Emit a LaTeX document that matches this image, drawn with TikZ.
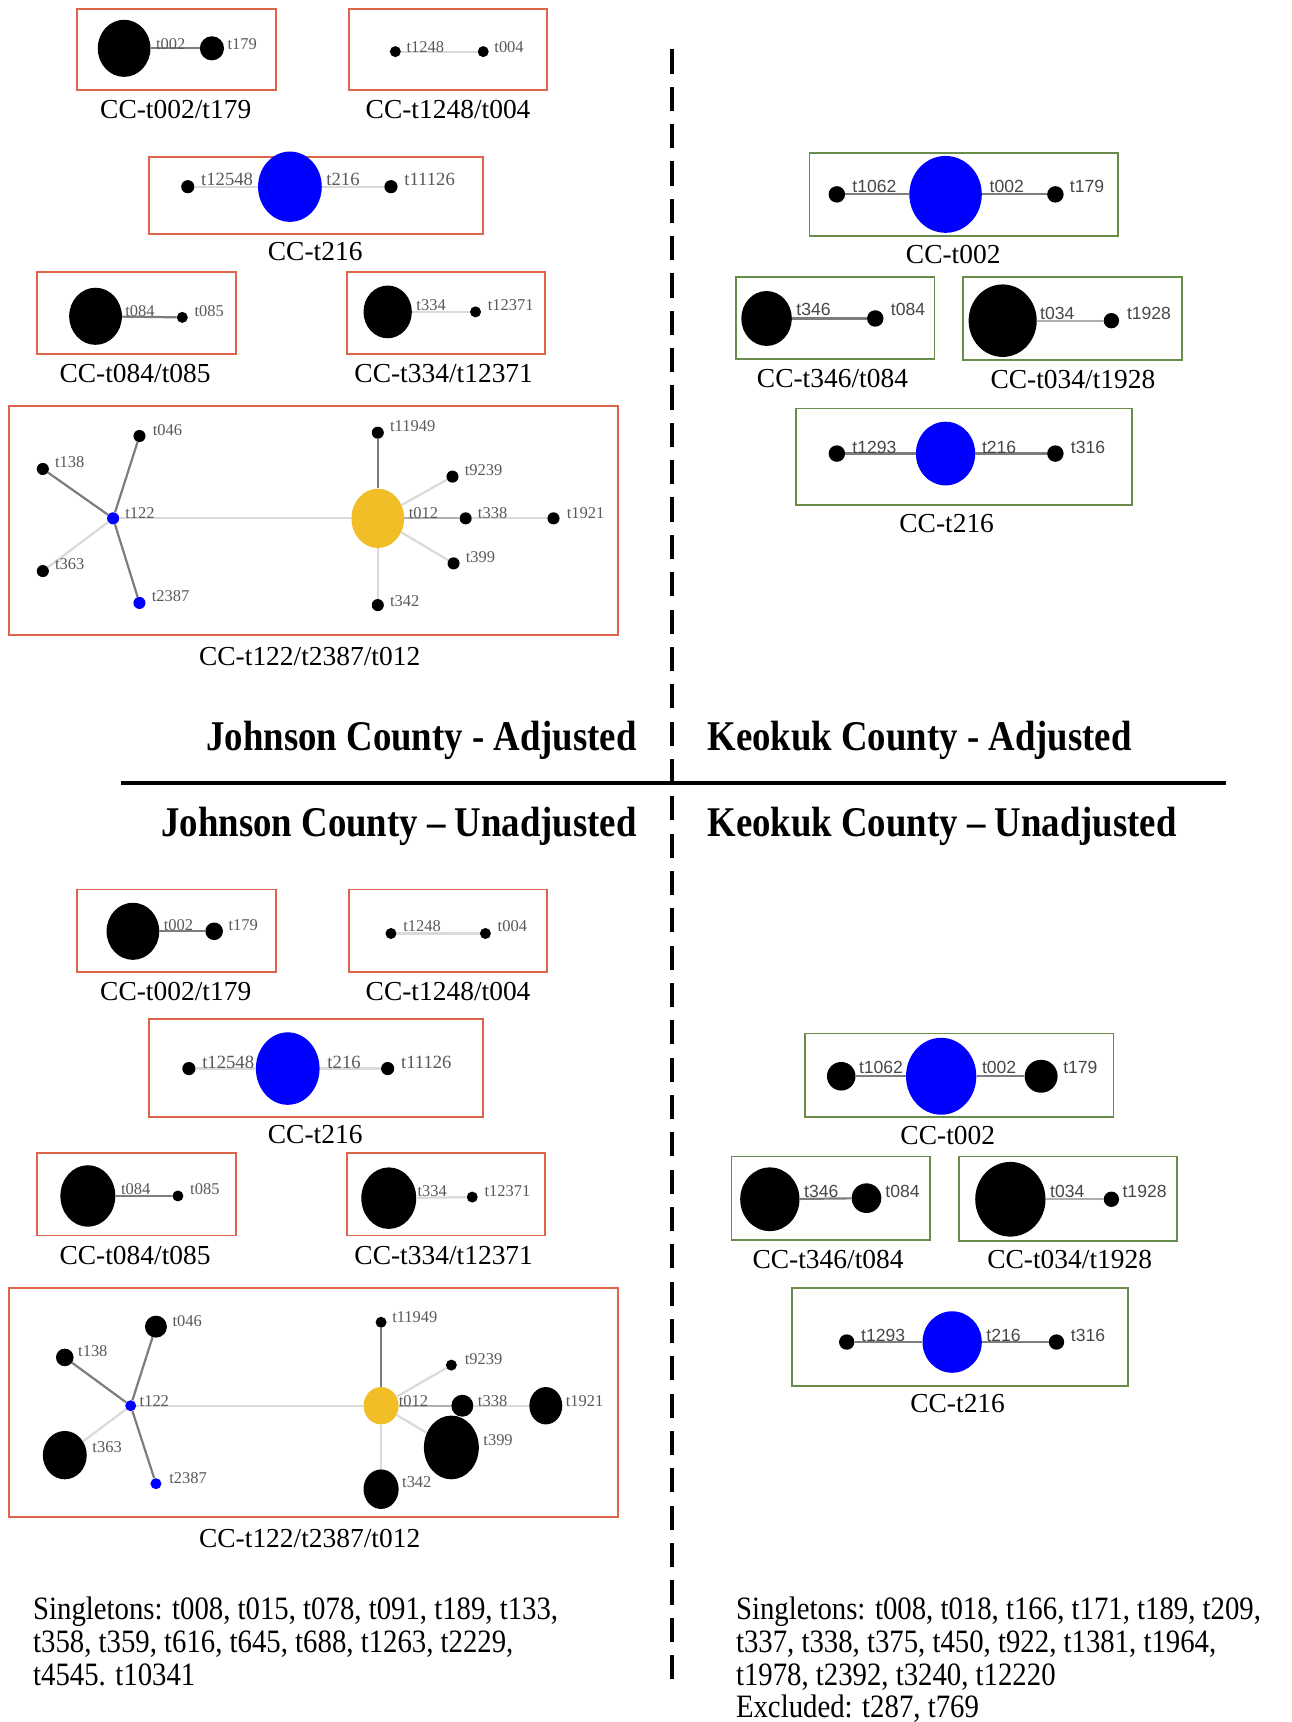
\documentclass[tikz,border=0pt]{standalone}
\usepackage{fontspec}
\setmainfont{Liberation Serif}
\newfontfamily\lsans{Liberation Sans}
\usetikzlibrary{shapes.geometric}
\definecolor{jred}{RGB}{222,100,75}
\definecolor{kgreen}{RGB}{105,140,75}
\definecolor{nblue}{RGB}{0,0,255}
\definecolor{nyel}{RGB}{242,190,40}
\definecolor{edark}{RGB}{125,125,125}
\definecolor{emed}{RGB}{175,175,175}
\definecolor{elight}{RGB}{218,218,218}
\newcommand\tallhead[1]{\scalebox{1}[1.15]{#1}}
\newcommand\tallsing[1]{\scalebox{0.97}[1.1]{#1}}
\begin{document}
\begin{tikzpicture}[x=1pt,y=-1pt,
  jbox/.style={draw=jred, line width=1.6},
  kbox/.style={draw=kgreen, line width=1.6},
  dotn/.style={circle, fill=black, inner sep=0, minimum size=#1},
  bdot/.style={circle, fill=nblue, inner sep=0, minimum size=#1},
  bign/.style 2 args={ellipse, fill=black, inner sep=0, minimum width=#1, minimum height=#2},
  bluen/.style 2 args={ellipse, fill=nblue, inner sep=0, minimum width=#1, minimum height=#2},
  yeln/.style 2 args={ellipse, fill=nyel, inner sep=0, minimum width=#1, minimum height=#2},
  jl/.style={font=\fontsize{15}{15}\selectfont, text=black!65, anchor=west, inner sep=0},
  jlb/.style={font=\fontsize{17}{17}\selectfont, text=black!65, anchor=west, inner sep=0},
  kl/.style={font=\lsans\fontsize{16}{16}\selectfont, text=black!72, anchor=west, inner sep=0},
  captext/.style={font=\fontsize{25}{25}\selectfont, anchor=base, inner sep=0, text=black},
  headtext/.style={font=\bfseries\fontsize{33.5}{33.5}\selectfont, inner sep=0},
  singtext/.style={font=\fontsize{27}{27}\selectfont, anchor=base west, inner sep=0},
  ed/.style={draw=edark, line width=2},
  em/.style={draw=emed, line width=2},
  el/.style={draw=elight, line width=2}]
\fill[white] (0,0) rectangle (1176,1568);
\useasboundingbox (0,0) rectangle (1176,1568);

% dividers
\coordinate (vtop) at (612,45);
\coordinate (vbot) at (612,1530);
\coordinate (hl) at (110,713);
\coordinate (hr) at (1116,713);
\draw[line width=3.5, dash pattern=on 22 off 12] (vtop) -- (vbot);
\draw[line width=3.5] (hl) -- (hr);

% headings
\node[headtext, anchor=base east] (h1) at (580,683) {\tallhead{Johnson County - Adjusted}};
\node[headtext, anchor=base west] (h2) at (644,683) {\tallhead{Keokuk County - Adjusted}};
\node[headtext, anchor=base east] (h3) at (580,762) {\tallhead{Johnson County – Unadjusted}};
\node[headtext, anchor=base west] (h4) at (644,762) {\tallhead{Keokuk County – Unadjusted}};

% ================= Johnson adjusted =================
\draw[jbox] (70,8) rectangle (251,82);
\node[bign={48}{52}] (a1a) at (113,44) {};
\node[dotn=22] (a1b) at (193,44) {};
\draw[ed] (a1a) -- (a1b);
\node[jl] (a1la) at (142,40) {t002};
\node[jl] (a1lb) at (207,40) {t179};
\node[captext] (a1c) at (160,108) {CC-t002/t179};

\draw[jbox] (318,8) rectangle (498,82);
\node[dotn=10] (a2a) at (360,47) {};
\node[dotn=10] (a2b) at (440,47) {};
\draw[el] (a2a) -- (a2b);
\node[jl] (a2la) at (370,43) {t1248};
\node[jl] (a2lb) at (450,43) {t004};
\node[captext] (a2c) at (408,108) {CC-t1248/t004};

\draw[jbox] (136,143) rectangle (440,213);
\node[dotn=12] (a3a) at (171,170) {};
\node[bluen={58}{64}] (a3b) at (264,170) {};
\node[dotn=12] (a3c) at (356,170) {};
\draw[el] (a3a) -- (a3b);
\draw[el] (a3b) -- (a3c);
\node[jlb] (a3la) at (183,163) {t12548};
\node[jlb] (a3lb) at (297,163) {t216};
\node[jlb] (a3lc) at (368,163) {t11126};
\node[captext] (a3cap) at (287,237) {CC-t216};

\draw[jbox] (34,248) rectangle (215,322);
\node[bign={48}{52}] (a4a) at (87,288) {};
\node[dotn=10] (a4b) at (166,289) {};
\draw[ed] (a4a) -- (a4b);
\node[jl] (a4la) at (114,283) {t084};
\node[jl] (a4lb) at (177,283) {t085};
\node[captext] (a4c) at (123,348) {CC-t084/t085};

\draw[jbox] (316,248) rectangle (496,322);
\node[bign={44}{48}] (a5a) at (353,284) {};
\node[dotn=10] (a5b) at (433,284) {};
\draw[el] (a5a) -- (a5b);
\node[jl] (a5la) at (379,278) {t334};
\node[jl] (a5lb) at (444,278) {t12371};
\node[captext] (a5c) at (404,348) {CC-t334/t12371};

\draw[jbox] (8,370) rectangle (563,578);
\node[bdot=11] (a6t122) at (103,472) {};
\node[dotn=11] (a6t046) at (127,397) {};
\node[dotn=11] (a6t138) at (39,427) {};
\node[dotn=11] (a6t363) at (39,520) {};
\node[bdot=11] (a6t2387) at (127,549) {};
\node[yeln={48}{54}] (a6t012) at (344,472) {};
\node[dotn=11] (a6t11949) at (344,394) {};
\node[dotn=11] (a6t9239) at (412,434) {};
\node[dotn=11] (a6t338) at (424,472) {};
\node[dotn=11] (a6t1921) at (504,472) {};
\node[dotn=11] (a6t399) at (413,513) {};
\node[dotn=11] (a6t342) at (344,551) {};
\draw[el] (a6t122) -- (a6t012);
\draw[ed] (a6t122) -- (a6t046);
\draw[ed] (a6t122) -- (a6t138);
\draw[el] (a6t122) -- (a6t363);
\draw[ed] (a6t122) -- (a6t2387);
\draw[ed] (a6t012) -- (a6t11949);
\draw[el] (a6t012) -- (a6t9239);
\draw[em] (a6t012) -- (a6t338);
\draw[el] (a6t338) -- (a6t1921);
\draw[el] (a6t012) -- (a6t399);
\draw[el] (a6t012) -- (a6t342);
\node[jl] (a6l046) at (139,392) {t046};
\node[jl] (a6l138) at (50,421) {t138};
\node[jl] (a6l122) at (114,467) {t122};
\node[jl] (a6l363) at (50,514) {t363};
\node[jl] (a6l2387) at (138,543) {t2387};
\node[jl] (a6l11949) at (355,388) {t11949};
\node[jl] (a6l9239) at (423,428) {t9239};
\node[jl] (a6l012) at (372,467) {t012};
\node[jl] (a6l338) at (435,467) {t338};
\node[jl] (a6l1921) at (516,467) {t1921};
\node[jl] (a6l399) at (424,507) {t399};
\node[jl] (a6l342) at (355,547) {t342};
\node[captext] (a6c) at (282,606) {CC-t122/t2387/t012};

% ================= Keokuk adjusted =================
\draw[kbox] (737,139) rectangle (1018,215);
\node[dotn=15] (b1a) at (762,177) {};
\node[bluen={66}{70}] (b1b) at (861,177) {};
\node[dotn=15] (b1c) at (961,177) {};
\draw[ed] (b1a) -- (b1b);
\draw[ed] (b1b) -- (b1c);
\node[kl] (b1la) at (776,170) {t1062};
\node[kl] (b1lb) at (901,170) {t002};
\node[kl] (b1lc) at (974,170) {t179};
\node[captext] (b1cap) at (868,240) {CC-t002};

\draw[kbox] (670,252) rectangle (851,327);
\node[bign={46}{50}] (b2a) at (698,290) {};
\node[dotn=15] (b2b) at (797,290) {};
\draw[ed] (b2a) -- (b2b);
\node[kl] (b2la) at (725,282) {t346};
\node[kl] (b2lb) at (811,282) {t084};
\node[captext] (b2c) at (758,353) {CC-t346/t084};

\draw[kbox] (877,252) rectangle (1076,328);
\node[bign={62}{66}] (b3a) at (913,292) {};
\node[dotn=14] (b3b) at (1012,292) {};
\draw[em] (b3a) -- (b3b);
\node[kl] (b3la) at (947,285) {t034};
\node[kl] (b3lb) at (1026,285) {t1928};
\node[captext] (b3c) at (977,354) {CC-t034/t1928};

\draw[kbox] (725,372) rectangle (1031,460);
\node[dotn=15] (b4a) at (762,413) {};
\node[bluen={54}{58}] (b4b) at (861,413) {};
\node[dotn=15] (b4c) at (961,413) {};
\draw[ed] (b4a) -- (b4b);
\draw[ed] (b4b) -- (b4c);
\node[kl] (b4la) at (776,407) {t1293};
\node[kl] (b4lb) at (894,407) {t216};
\node[kl] (b4lc) at (975,407) {t316};
\node[captext] (b4cap) at (862,485) {CC-t216};

% ================= Johnson unadjusted =================
\draw[jbox] (70,810) rectangle (251,885);
\node[bign={48}{52}] (c1a) at (121,848) {};
\node[dotn=16] (c1b) at (195,848) {};
\draw[ed] (c1a) -- (c1b);
\node[jl] (c1la) at (149,842) {t002};
\node[jl] (c1lb) at (208,842) {t179};
\node[captext] (c1c) at (160,911) {CC-t002/t179};

\draw[jbox] (318,810) rectangle (498,885);
\node[dotn=10] (c2a) at (356,850) {};
\node[dotn=10] (c2b) at (442,850) {};
\draw[el] (c2a) -- (c2b);
\node[jl] (c2la) at (367,843) {t1248};
\node[jl] (c2lb) at (453,843) {t004};
\node[captext] (c2c) at (408,911) {CC-t1248/t004};

\draw[jbox] (136,928) rectangle (440,1017);
\node[dotn=12] (c3a) at (172,973) {};
\node[bluen={58}{66}] (c3b) at (262,973) {};
\node[dotn=12] (c3c) at (353,973) {};
\draw[el] (c3a) -- (c3b);
\draw[el] (c3b) -- (c3c);
\node[jlb] (c3la) at (184,967) {t12548};
\node[jlb] (c3lb) at (298,967) {t216};
\node[jlb] (c3lc) at (365,967) {t11126};
\node[captext] (c3cap) at (287,1041) {CC-t216};

\draw[jbox] (34,1050) rectangle (215,1125);
\node[bign={50}{56}] (c4a) at (80,1089) {};
\node[dotn=10] (c4b) at (162,1089) {};
\draw[ed] (c4a) -- (c4b);
\node[jl] (c4la) at (110,1083) {t084};
\node[jl] (c4lb) at (173,1083) {t085};
\node[captext] (c4c) at (123,1151) {CC-t084/t085};

\draw[jbox] (316,1050) rectangle (496,1125);
\node[bign={50}{56}] (c5a) at (354,1091) {};
\node[dotn=10] (c5b) at (430,1090) {};
\draw[el] (c5a) -- (c5b);
\node[jl] (c5la) at (380,1085) {t334};
\node[jl] (c5lb) at (441,1085) {t12371};
\node[captext] (c5c) at (404,1151) {CC-t334/t12371};

\draw[jbox] (8,1173) rectangle (563,1381);
\node[bdot=10] (c6t122) at (119,1280) {};
\node[dotn=20] (c6t046) at (142,1208) {};
\node[dotn=16] (c6t138) at (59,1236) {};
\node[bign={40}{44}] (c6t363) at (59,1325) {};
\node[bdot=10] (c6t2387) at (142,1351) {};
\node[yeln={32}{34}] (c6t012) at (347,1280) {};
\node[dotn=10] (c6t11949) at (347,1204) {};
\node[dotn=10] (c6t9239) at (411,1243) {};
\node[dotn=20] (c6t338) at (421,1280) {};
\node[bign={30}{34}] (c6t1921) at (497,1280) {};
\node[bign={50}{58}] (c6t399) at (411,1318) {};
\node[bign={32}{36}] (c6t342) at (347,1356) {};
\draw[el] (c6t122) -- (c6t012);
\draw[ed] (c6t122) -- (c6t046);
\draw[ed] (c6t122) -- (c6t138);
\draw[el] (c6t122) -- (c6t363);
\draw[ed] (c6t122) -- (c6t2387);
\draw[ed] (c6t012) -- (c6t11949);
\draw[el] (c6t012) -- (c6t9239);
\draw[em] (c6t012) -- (c6t338);
\draw[el] (c6t338) -- (c6t1921);
\draw[el] (c6t012) -- (c6t399);
\draw[el] (c6t012) -- (c6t342);
\node[jl] (c6l046) at (157,1203) {t046};
\node[jl] (c6l138) at (71,1230) {t138};
\node[jl] (c6l122) at (127,1276) {t122};
\node[jl] (c6l363) at (84,1318) {t363};
\node[jl] (c6l2387) at (154,1346) {t2387};
\node[jl] (c6l11949) at (357,1199) {t11949};
\node[jl] (c6l9239) at (423,1238) {t9239};
\node[jl] (c6l012) at (363,1276) {t012};
\node[jl] (c6l338) at (435,1276) {t338};
\node[jl] (c6l1921) at (515,1276) {t1921};
\node[jl] (c6l399) at (440,1311) {t399};
\node[jl] (c6l342) at (366,1350) {t342};
\node[captext] (c6c) at (282,1409) {CC-t122/t2387/t012};

% ================= Keokuk unadjusted =================
\draw[kbox] (733,941) rectangle (1014,1017);
\node[dotn=26] (d1a) at (766,980) {};
\node[bluen={64}{70}] (d1b) at (857,980) {};
\node[dotn=30] (d1c) at (948,980) {};
\draw[ed] (d1a) -- (d1b);
\draw[ed] (d1b) -- (d1c);
\node[kl] (d1la) at (782,972) {t1062};
\node[kl] (d1lb) at (894,972) {t002};
\node[kl] (d1lc) at (968,972) {t179};
\node[captext] (d1cap) at (863,1042) {CC-t002};

\draw[kbox] (666,1053) rectangle (847,1129);
\node[bign={54}{58}] (d2a) at (701,1092) {};
\node[dotn=27] (d2b) at (789,1091) {};
\draw[ed] (d2a) -- (d2b);
\node[kl] (d2la) at (732,1085) {t346};
\node[kl] (d2lb) at (806,1085) {t084};
\node[captext] (d2c) at (754,1155) {CC-t346/t084};

\draw[kbox] (873,1053) rectangle (1072,1130);
\node[bign={64}{68}] (d3a) at (920,1092) {};
\node[dotn=14] (d3b) at (1012,1092) {};
\draw[em] (d3a) -- (d3b);
\node[kl] (d3la) at (956,1085) {t034};
\node[kl] (d3lb) at (1022,1085) {t1928};
\node[captext] (d3c) at (974,1155) {CC-t034/t1928};

\draw[kbox] (721,1173) rectangle (1027,1262);
\node[dotn=14] (d4a) at (771,1222) {};
\node[bluen={54}{56}] (d4b) at (867,1222) {};
\node[dotn=14] (d4c) at (962,1222) {};
\draw[ed] (d4a) -- (d4b);
\draw[ed] (d4b) -- (d4c);
\node[kl] (d4la) at (784,1216) {t1293};
\node[kl] (d4lb) at (898,1216) {t216};
\node[kl] (d4lc) at (975,1216) {t316};
\node[captext] (d4cap) at (872,1286) {CC-t216};

% singletons
\node[singtext] (sl1) at (30,1475) {\tallsing{Singletons: t008, t015, t078, t091, t189, t133,}};
\node[singtext] (sl2) at (30,1505) {\tallsing{t358, t359, t616, t645, t688, t1263, t2229,}};
\node[singtext] (sl3) at (30,1535) {\tallsing{t4545. t10341}};
\node[singtext] (sr1) at (670,1475) {\tallsing{Singletons: t008, t018, t166, t171, t189, t209,}};
\node[singtext] (sr2) at (670,1505) {\tallsing{t337, t338, t375, t450, t922, t1381, t1964,}};
\node[singtext] (sr3) at (670,1535) {\tallsing{t1978, t2392, t3240, t12220}};
\node[singtext] (sr4) at (670,1564) {\tallsing{Excluded: t287, t769}};
\end{tikzpicture}
\end{document}
